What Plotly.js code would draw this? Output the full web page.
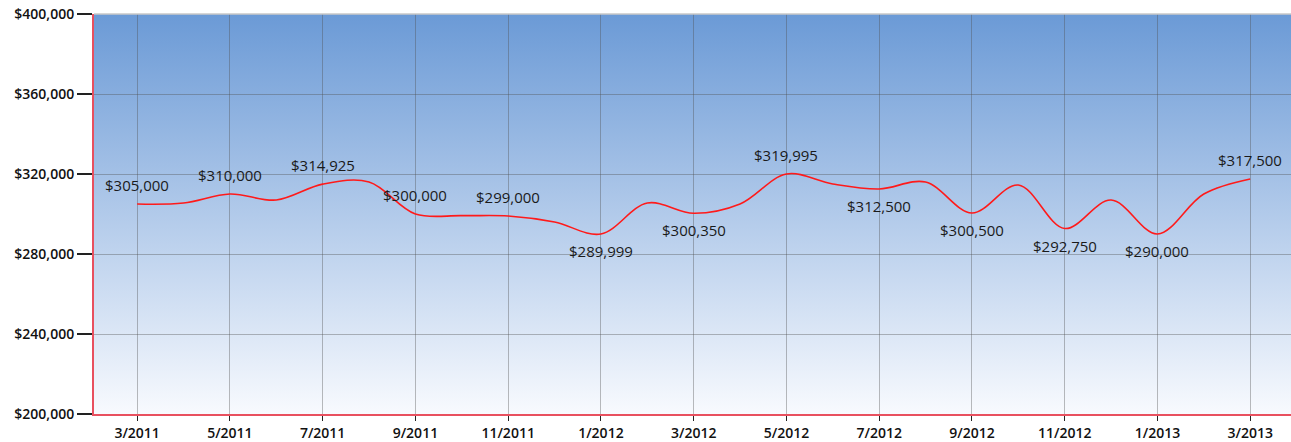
<!DOCTYPE html>
<html>
<head>
<meta charset="utf-8">
<script src="https://cdn.plot.ly/plotly-3.0.1.min.js"></script>
<style>html,body{margin:0;padding:0;background:#fff;}#chart{width:1291px;height:442px;}</style>
</head>
<body>
<div id="chart"></div>
<script>
const months = ["3/2011","4/2011","5/2011","6/2011","7/2011","8/2011","9/2011","10/2011","11/2011","12/2011",
  "1/2012","2/2012","3/2012","4/2012","5/2012","6/2012","7/2012","8/2012","9/2012","10/2012","11/2012","12/2012",
  "1/2013","2/2013","3/2013"];
const prices = [305000,305500,310000,307000,314925,316000,300000,299200,299000,296000,
  289999,305500,300350,305000,319995,315000,312500,316000,300500,314500,292750,307000,
  290000,310000,317500];
const labelMonths = ["3/2011","5/2011","7/2011","9/2011","11/2011","1/2012","3/2012","5/2012","7/2012","9/2012","11/2012","1/2013","3/2013"];
const labelPlacement = ["above","above","above","above","above","below","below","above","below","below","below","below","above"];
const yTicks = [200000,240000,280000,320000,360000,400000];

const fmt = v => "$" + v.toLocaleString("en-US");

const gradSvg = '<svg xmlns="http://www.w3.org/2000/svg" width="10" height="100" preserveAspectRatio="none">' +
  '<defs><linearGradient id="g" x1="0" y1="0" x2="0" y2="1">' +
  '<stop offset="0" stop-color="#6b9ad6"/><stop offset="1" stop-color="#f8fafe"/></linearGradient></defs>' +
  '<rect width="10" height="100" fill="url(#g)"/></svg>';
const gradUrl = "data:image/svg+xml;base64," + btoa(gradSvg);

const annotations = labelMonths.map((m, i) => {
  const v = prices[months.indexOf(m)];
  return {
    x: m, y: v, xref: "x", yref: "y", text: fmt(v), showarrow: false,
    yshift: labelPlacement[i] === "above" ? 19 : -17,
    font: {family: "Open Sans, Noto Sans, sans-serif", size: 15, color: "#1a1a1a"}
  };
});

const trace = {
  x: months, y: prices, type: "scatter", mode: "lines",
  line: {color: "#ff1a1a", width: 1.6, shape: "spline", smoothing: 1},
  hoverinfo: "x+y"
};

const tickFont = {family: "Open Sans, Noto Sans, sans-serif", size: 14, color: "#111", weight: 600};

const layout = {
  width: 1291, height: 442,
  margin: {l: 94, r: 0, t: 14, b: 28, pad: 0},
  paper_bgcolor: "#ffffff",
  plot_bgcolor: "rgba(0,0,0,0)",
  showlegend: false,
  images: [{source: gradUrl, xref: "paper", yref: "paper", x: 0, y: 1, sizex: 1, sizey: 1,
    sizing: "stretch", xanchor: "left", yanchor: "top", layer: "below"}],
  xaxis: {
    type: "category", categoryorder: "array", categoryarray: months,
    range: [-0.93, 24.88],
    tickmode: "array", tickvals: labelMonths, ticktext: labelMonths,
    ticks: "outside", ticklen: 5, tickcolor: "#222", tickwidth: 1,
    showgrid: true, gridcolor: "rgba(80,80,80,0.38)", gridwidth: 1,
    showline: true, linecolor: "#e8505f", linewidth: 2,
    tickfont: tickFont,
    zeroline: false, fixedrange: true
  },
  yaxis: {
    range: [200000, 400000],
    tickmode: "array", tickvals: yTicks, ticktext: yTicks.map(fmt),
    ticks: "outside", ticklen: 15, tickcolor: "#222", tickwidth: 1.5,
    showgrid: true, gridcolor: "rgba(80,80,80,0.38)", gridwidth: 1,
    showline: true, linecolor: "#e8505f", linewidth: 2,
    tickfont: tickFont,
    zeroline: false, fixedrange: true
  },
  shapes: [{type: "line", xref: "paper", yref: "paper", x0: 0, x1: 1, y0: 1, y1: 1,
    line: {color: "#c8c8c8", width: 1.5}}],
  annotations: annotations
};

Plotly.newPlot("chart", [trace], layout, {displayModeBar: false, staticPlot: true});
</script>
</body>
</html>
